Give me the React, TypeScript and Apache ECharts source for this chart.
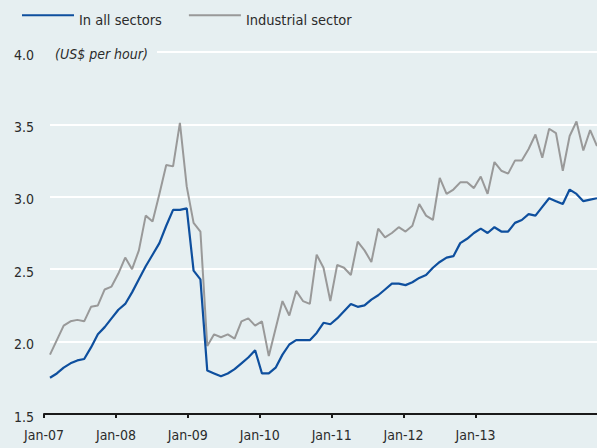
import React, { useEffect, useRef } from "react";
import * as echarts from "echarts";

// Axis tick labels (evenly spaced along the bottom axis, as in the reference)
const tickLabels = ["Jan-07", "Jan-08", "Jan-09", "Jan-10", "Jan-11", "Jan-12", "Jan-13"];
const tickPositions = [0, 1, 2, 3, 4, 5, 6];

// Monthly observations (81 points)
const monthNames = ["Jan", "Feb", "Mar", "Apr", "May", "Jun", "Jul", "Aug", "Sep", "Oct", "Nov", "Dec"];
const months: string[] = [];
for (let y = 7; y <= 13; y++) {
  for (let m = 0; m < 12; m++) {
    if (months.length < 81) months.push(`${monthNames[m]}-${String(y).padStart(2, "0")}`);
  }
}

// US$ per hour – in all sectors
const allSectors = [
  1.75, 1.78, 1.82, 1.85, 1.87, 1.88, 1.96, 2.05, 2.10, 2.16,
  2.22, 2.26, 2.34, 2.43, 2.52, 2.60, 2.68, 2.80, 2.91, 2.91,
  2.92, 2.49, 2.43, 1.80, 1.78, 1.76, 1.78, 1.81, 1.85, 1.89,
  1.94, 1.78, 1.78, 1.82, 1.91, 1.98, 2.01, 2.01, 2.01, 2.06,
  2.13, 2.12, 2.16, 2.21, 2.26, 2.24, 2.25, 2.29, 2.32, 2.36,
  2.40, 2.40, 2.39, 2.41, 2.44, 2.46, 2.51, 2.55, 2.58, 2.59,
  2.68, 2.71, 2.75, 2.78, 2.75, 2.79, 2.76, 2.76, 2.82, 2.84,
  2.88, 2.87, 2.93, 2.99, 2.97, 2.95, 3.05, 3.02, 2.97, 2.98,
  2.99,
];

// US$ per hour – industrial sector
const industrial = [
  1.91, 2.01, 2.11, 2.14, 2.15, 2.14, 2.24, 2.25, 2.36, 2.38,
  2.47, 2.58, 2.50, 2.63, 2.87, 2.83, 3.02, 3.22, 3.21, 3.51,
  3.07, 2.82, 2.76, 1.97, 2.05, 2.03, 2.05, 2.02, 2.14, 2.16,
  2.11, 2.14, 1.90, 2.09, 2.28, 2.18, 2.35, 2.28, 2.26, 2.60,
  2.51, 2.28, 2.53, 2.51, 2.46, 2.69, 2.63, 2.55, 2.78, 2.72,
  2.75, 2.79, 2.76, 2.80, 2.95, 2.87, 2.84, 3.13, 3.02, 3.05,
  3.10, 3.10, 3.06, 3.14, 3.02, 3.24, 3.18, 3.16, 3.25, 3.25,
  3.33, 3.43, 3.27, 3.47, 3.44, 3.18, 3.42, 3.52, 3.32, 3.46,
  3.35,
];

const BG = "#e6eff1";
const BLUE = "#0e4f9e";
const GRAY = "#999999";
const TEXT = "#2b2b2b";
const FONT = "'DejaVu Sans Condensed', 'Liberation Sans Narrow', 'Liberation Sans', sans-serif";
// legend key: a 52x2 bar at the top of a taller (invisible) box so the text sits lower
const LEGEND_ICON = "path://M0,0L52,0L52,2L0,2Z M0,10.5L0.05,10.5L0.05,10.55L0,10.55Z";

export default function App() {
  const ref = useRef<HTMLDivElement>(null);

  useEffect(() => {
    if (!ref.current) return;
    const chart = echarts.init(ref.current, undefined, { renderer: "svg" });
    const option: any = {
      animation: false,
      backgroundColor: BG,
      textStyle: { fontFamily: FONT },
      legend: {
        left: 22,
        top: 12,
        padding: 0,
        icon: LEGEND_ICON,
        itemWidth: 52,
        itemHeight: 10.55,
        itemGap: 27,
        data: ["In all sectors", "Industrial sector"],
        textStyle: {
          fontFamily: FONT,
          fontSize: 14.5,
          color: TEXT,
        },
      },
      grid: [
        { left: 44, right: 0, top: 52, bottom: 34 },
        { left: 50, right: 0, top: 52, bottom: 34 },
      ],
      xAxis: [
        {
          type: "value",
          gridIndex: 0,
          min: 0,
          max: 7.69,
          interval: 1,
          axisLine: { show: true, lineStyle: { color: "#1a1a1a", width: 2 } },
          axisTick: {
            show: true,
            length: 4,
            customValues: tickPositions,
            lineStyle: { color: "#1a1a1a", width: 2 },
          },
          axisLabel: {
            customValues: tickPositions,
            formatter: (v: number) => (Number.isInteger(v) && tickLabels[v]) || "",
            margin: 14,
            fontSize: 14,
            color: TEXT,
            fontFamily: FONT,
          },
          splitLine: { show: false },
        },
        {
          type: "category",
          gridIndex: 1,
          data: months,
          boundaryGap: false,
          show: false,
        },
      ],
      yAxis: [
        {
          type: "value",
          gridIndex: 0,
          min: 1.5,
          max: 4,
          interval: 0.5,
          show: false,
          splitLine: { show: false },
        },
        {
          type: "value",
          gridIndex: 1,
          min: 1.5,
          max: 4,
          interval: 0.5,
          axisLine: { show: false },
          axisTick: { show: false },
          axisLabel: {
            align: "left",
            verticalAlign: "top",
            lineHeight: 5,
            margin: 36,
            formatter: (v: number) => v.toFixed(1),
            fontSize: 14,
            color: TEXT,
            fontFamily: FONT,
          },
          splitLine: { show: true, lineStyle: { color: "#ffffff", width: 2 } },
        },
      ],
      series: [
        {
          name: "In all sectors",
          type: "line",
          xAxisIndex: 1,
          yAxisIndex: 1,
          data: allSectors,
          symbol: "none",
          color: BLUE,
          lineStyle: { color: BLUE, width: 2.2 },
          z: 3,
        },
        {
          name: "Industrial sector",
          type: "line",
          xAxisIndex: 1,
          yAxisIndex: 1,
          data: industrial,
          symbol: "none",
          color: GRAY,
          lineStyle: { color: GRAY, width: 2 },
          z: 2,
        },
      ],
      graphic: [
        {
          type: "rect",
          x: 50,
          y: 45,
          shape: { x: 0, y: 0, width: 107, height: 14 },
          style: { fill: BG },
          z: 5,
        },
        {
          type: "text",
          x: 55,
          y: 54,
          style: {
            text: "(US$ per hour)",
            fontFamily: FONT,
            fontStyle: "italic",
            fontSize: 14,
            fill: TEXT,
            verticalAlign: "middle",
            align: "left",
          },
          z: 6,
        },
      ],
    };
    chart.setOption(option);
    return () => chart.dispose();
  }, []);

  return (
    <div
      ref={ref}
      style={{ position: "absolute", left: 0, top: 0, width: 597, height: 448 }}
    />
  );
}
